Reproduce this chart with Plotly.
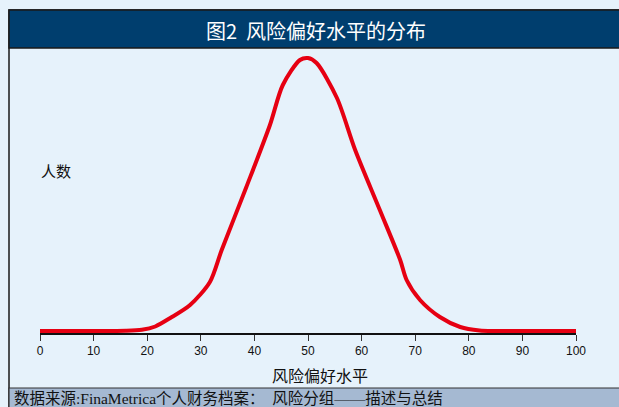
import plotly.graph_objects as go

# Risk tolerance score (x) and relative number of people (y, arbitrary units)
risk_score = [0, 10, 16, 19, 21.5, 24.3, 28, 31.7, 33.9, 38.5, 42.9, 45.3, 48.5, 50,
              51.6, 55.4, 58.8, 63.4, 67.2, 68.4, 70.9, 74.6, 78.4, 82, 85, 90, 100]
people_count = [2, 2, 2.2, 3.2, 6.5, 15, 28, 51, 83, 146, 208, 248, 273, 275,
                270, 235, 183, 123, 73, 53, 33, 16, 6, 2.5, 2, 2, 2]

x_ticks = [0, 10, 20, 30, 40, 50, 60, 70, 80, 90, 100]

title_text = "图2\u00a0\u00a0风险偏好水平的分布"
x_title = "风险偏好水平"
y_label = "人数"
source_text = "数据来源:FinaMetrica个人财务档案：\u00a0\u00a0风险分组——描述与总结"

W, H = 619, 407
BG = "#e6f2fb"
HEADER = "#003e6e"
FOOT = "#a5b9d2"
RED = "#e60012"

def px(x):
    return x / W

def py(y):
    return 1 - y / H

fig = go.Figure()
fig.add_trace(go.Scatter(
    x=risk_score, y=people_count, mode="lines",
    line=dict(color=RED, width=4, shape="spline", smoothing=0.8),
    hoverinfo="skip", showlegend=False,
))

shapes = [
    # outer panel
    dict(type="rect", xref="paper", yref="paper", x0=px(9), x1=px(640), y0=py(10), y1=py(420),
         fillcolor=BG, line=dict(color="#1a1a1a", width=1.5), layer="below"),
    # title band
    dict(type="rect", xref="paper", yref="paper", x0=px(9), x1=px(640), y0=py(10), y1=py(48),
         fillcolor=HEADER, line=dict(color="#1a1a1a", width=1.5), layer="below"),
    # source band
    dict(type="rect", xref="paper", yref="paper", x0=px(9), x1=px(640), y0=py(388), y1=py(420),
         fillcolor=FOOT, line=dict(color="#333333", width=1.2), layer="below"),
]

annotations = [
    dict(text=title_text, xref="paper", yref="paper", x=px(316), y=py(30),
         xanchor="center", yanchor="middle", showarrow=False,
         font=dict(family="Noto Sans CJK SC", size=20, color="white")),
    dict(text=y_label, xref="paper", yref="paper", x=px(56), y=py(170),
         xanchor="center", yanchor="middle", showarrow=False,
         font=dict(family="Noto Sans CJK SC", size=15, color="#111111")),
    dict(text=x_title, xref="paper", yref="paper", x=px(320), y=py(375),
         xanchor="center", yanchor="middle", showarrow=False,
         font=dict(family="Noto Sans CJK SC", size=16, color="#111111")),
    dict(text=source_text, xref="paper", yref="paper", x=px(12), y=py(398),
         xanchor="left", yanchor="middle", showarrow=False,
         font=dict(family="Liberation Serif, Noto Sans CJK SC", size=15.5, color="#111111")),
]

fig.update_layout(
    width=W, height=H,
    margin=dict(l=0, r=0, t=0, b=0, autoexpand=False),
    paper_bgcolor=BG, plot_bgcolor="rgba(0,0,0,0)",
    shapes=shapes, annotations=annotations,
    xaxis=dict(domain=[px(40), px(576)], range=[0, 100], tickvals=x_ticks,
               showgrid=False, zeroline=False, showline=True, linecolor="#111111", linewidth=1.5,
               ticks="outside", ticklen=6, tickcolor="#333333", tickwidth=1,
               tickfont=dict(family="Liberation Sans, Arial", size=12, color="#111111"),
               automargin=False, fixedrange=True),
    yaxis=dict(domain=[py(333), py(48)], range=[0, 285], visible=False, fixedrange=True),
)

fig.write_html("out.html")
